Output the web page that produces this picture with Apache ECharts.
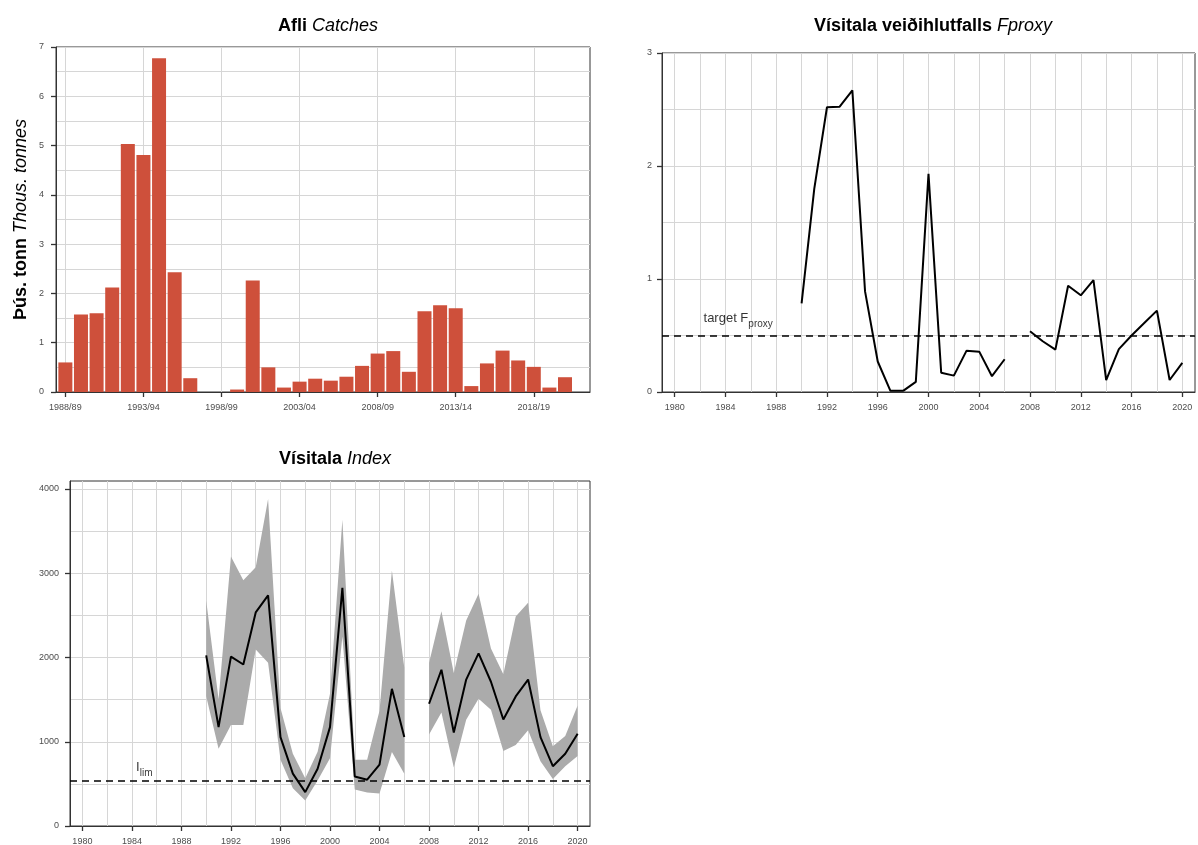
<!DOCTYPE html>
<html>
<head>
<meta charset="utf-8">
<script src="https://cdn.jsdelivr.net/npm/echarts@6/dist/echarts.min.js"></script>
<style>
html,body{margin:0;padding:0;background:#ffffff;}
#c{width:1198px;height:845px;}
</style>
</head>
<body>
<div id="c"></div>
<script>
// ---------------- data ----------------
const seasons = ['1988/89','1989/90','1990/91','1991/92','1992/93','1993/94','1994/95','1995/96','1996/97','1997/98',
  '1998/99','1999/00','2000/01','2001/02','2002/03','2003/04','2004/05','2005/06','2006/07','2007/08',
  '2008/09','2009/10','2010/11','2011/12','2012/13','2013/14','2014/15','2015/16','2016/17','2017/18',
  '2018/19','2019/20','2020/21'];
const catches = [0.60,1.57,1.60,2.12,5.03,4.81,6.77,2.43,0.28,0,
  0,0.05,2.26,0.50,0.09,0.21,0.27,0.23,0.31,0.53,
  0.78,0.83,0.41,1.64,1.76,1.70,0.12,0.58,0.84,0.64,
  0.51,0.09,0.30];
const catchTickSeasons = ['1988/89','1993/94','1998/99','2003/04','2008/09','2013/14','2018/19'];

const years = [1990,1991,1992,1993,1994,1995,1996,1997,1998,1999,2000,2001,2002,2003,2004,2005,2006,2007,
  2008,2009,2010,2011,2012,2013,2014,2015,2016,2017,2018,2019,2020];
const fproxy = [0.785,1.80,2.52,2.525,2.67,0.89,0.27,0.01,0.01,0.09,1.93,0.17,0.145,0.366,0.357,0.14,0.29,null,
  0.537,0.449,0.375,0.94,0.856,0.99,0.106,0.38,0.50,0.61,0.72,0.106,0.258];
const fTarget = 0.5;
const fTargetLabelAt = [1985, 0.652];

const indexVal = [2026,1174,2010,1917,2535,2738,1055,621,402,680,1174,2828,587,550,728,1628,1055,null,
  1451,1855,1110,1738,2049,1712,1264,1538,1738,1055,710,858,1095];
const indexUpper = [2678,1505,3200,2917,3070,3880,1400,858,566,882,1569,3635,787,787,1367,3032,1880,null,
  1935,2548,1816,2439,2757,2106,1801,2486,2650,1374,946,1069,1431];
const indexLower = [1540,917,1200,1200,2095,1937,785,448,304,541,803,2250,434,397,385,877,620,null,
  1087,1346,695,1261,1510,1379,889,962,1136,769,558,710,832];
const iLim = 541;
const iLimLabelAt = [1985, 697];

const yearTicks = [1980,1984,1988,1992,1996,2000,2004,2008,2012,2016,2020];
const yearGrid = [1980,1982,1984,1986,1988,1990,1992,1994,1996,1998,2000,2002,2004,2006,2008,2010,2012,2014,2016,2018,2020];
const indexTicks = [0,1000,2000,3000,4000];

// ---------------- styles ----------------
const FONT = 'Liberation Sans, Arial, Helvetica, sans-serif';
const AX = '#333333';
const GRIDC = '#d6d6d6';
const LBL = {color:'#4d4d4d', fontSize:9, fontFamily:FONT, margin:11};
const seasonYear = s => parseInt(s.slice(0,4), 10);

function titleText(text, cx, top){
  return {
    text: text, left: cx, top: top, textAlign: 'center',
    textStyle: {
      fontFamily: FONT, fontSize: 18, fontWeight: 'normal', color: '#000', lineHeight: 22,
      rich: {
        b: {fontFamily: FONT, fontSize: 18, fontWeight: 'bold', fontStyle: 'normal', color: '#000', lineHeight: 22},
        i: {fontFamily: FONT, fontSize: 18, fontWeight: 'normal', fontStyle: 'italic', color: '#000', lineHeight: 22}
      }
    }
  };
}

function yearAxisLabels(gi){
  return {
    gridIndex: gi, type: 'value', min: 1979, max: 2021,
    axisLine: {show: true, lineStyle: {color: AX, width: 1}},
    axisTick: {show: true, customValues: yearTicks, length: 5, lineStyle: {color: AX, width: 1.3}},
    axisLabel: Object.assign({}, LBL, {customValues: yearTicks, formatter: v => String(Math.round(v))}),
    splitLine: {show: false}
  };
}
function yearAxisGrid(gi){
  return {
    gridIndex: gi, type: 'value', min: 1979, max: 2021, position: 'bottom',
    axisLine: {show: false},
    axisTick: {show: false, customValues: yearGrid},
    axisLabel: {show: false, customValues: yearGrid},
    splitLine: {show: true, lineStyle: {color: GRIDC, width: 1}}
  };
}

// band segments (skip missing years)
const segs = [];
let st = -1;
for (let i = 0; i < years.length; i++) {
  const ok = indexUpper[i] !== null && indexLower[i] !== null;
  if (ok && st < 0) st = i;
  if ((!ok || i === years.length - 1) && st >= 0) {
    segs.push([st, ok ? i : i - 1]);
    st = -1;
  }
}

const option = {
  animation: false,
  backgroundColor: '#ffffff',
  title: [
    titleText('{b|Afli} {i|Catches}', 323, 10),
    titleText('{b|Vísitala veiðihlutfalls} {i|Fproxy}', 928, 10),
    titleText('{b|Vísitala} {i|Index}', 330, 443)
  ],
  grid: [
    {left: 56, top: 47, width: 534, height: 345, show: true, borderColor: AX, borderWidth: 1, backgroundColor: 'transparent', containLabel: false, outerBoundsMode: 'none'},
    {left: 662, top: 53, width: 533, height: 339, show: true, borderColor: AX, borderWidth: 1, backgroundColor: 'transparent', containLabel: false, outerBoundsMode: 'none'},
    {left: 70, top: 481, width: 520, height: 345, show: true, borderColor: AX, borderWidth: 1, backgroundColor: 'transparent', containLabel: false, outerBoundsMode: 'none'}
  ],
  xAxis: [
    {
      gridIndex: 0, type: 'value', min: 1987.4, max: 2021.6,
      axisLine: {show: true, lineStyle: {color: AX, width: 1}},
      axisTick: {show: true, customValues: catchTickSeasons.map(seasonYear), length: 5, lineStyle: {color: AX, width: 1.3}},
      axisLabel: Object.assign({}, LBL, {
        customValues: catchTickSeasons.map(seasonYear),
        formatter: v => catchTickSeasons.find(s => seasonYear(s) === Math.round(v)) || ''
      }),
      splitLine: {show: true, lineStyle: {color: GRIDC, width: 1}}
    },
    yearAxisLabels(1),
    yearAxisGrid(1),
    yearAxisLabels(2),
    yearAxisGrid(2)
  ],
  yAxis: [
    {
      gridIndex: 0, type: 'value', min: 0, max: 7, interval: 1,
      name: '{b|Þús. tonn} {i|Thous. tonnes}', nameLocation: 'middle', nameRotate: 90, nameGap: 26,
      nameTextStyle: {
        fontFamily: FONT, fontSize: 18, fontWeight: 'normal', color: '#000',
        rich: {
          b: {fontFamily: FONT, fontSize: 18, fontWeight: 'bold', fontStyle: 'normal', color: '#000'},
          i: {fontFamily: FONT, fontSize: 18, fontWeight: 'normal', fontStyle: 'italic', color: '#000'}
        }
      },
      axisLine: {show: true, lineStyle: {color: AX, width: 1}},
      axisTick: {show: true, length: 5, lineStyle: {color: AX, width: 1.3}},
      axisLabel: Object.assign({}, LBL, {margin: 12}),
      splitLine: {show: true, lineStyle: {color: GRIDC, width: 1}},
      minorTick: {show: false, splitNumber: 2},
      minorSplitLine: {show: true, lineStyle: {color: GRIDC, width: 1}}
    },
    {
      gridIndex: 1, type: 'value', min: 0, max: 3, interval: 1,
      axisLine: {show: true, lineStyle: {color: AX, width: 1}},
      axisTick: {show: true, length: 5, lineStyle: {color: AX, width: 1.3}},
      axisLabel: Object.assign({}, LBL, {margin: 10}),
      splitLine: {show: true, lineStyle: {color: GRIDC, width: 1}},
      minorTick: {show: false, splitNumber: 2},
      minorSplitLine: {show: true, lineStyle: {color: GRIDC, width: 1}}
    },
    {
      gridIndex: 2, type: 'value', min: 0, max: 4095, interval: 1000,
      axisLine: {show: true, lineStyle: {color: AX, width: 1}},
      axisTick: {show: true, customValues: indexTicks, length: 5, lineStyle: {color: AX, width: 1.3}},
      axisLabel: Object.assign({}, LBL, {margin: 11, customValues: indexTicks, formatter: v => String(Math.round(v))}),
      splitLine: {show: true, lineStyle: {color: GRIDC, width: 1}},
      minorTick: {show: false, splitNumber: 2},
      minorSplitLine: {show: true, lineStyle: {color: GRIDC, width: 1}}
    }
  ],
  series: [
    {
      type: 'bar', xAxisIndex: 0, yAxisIndex: 0,
      data: seasons.map((s, i) => [seasonYear(s), catches[i]]),
      barWidth: 14,
      itemStyle: {color: '#CE503B'},
      z: 3
    },
    {
      type: 'line', xAxisIndex: 1, yAxisIndex: 1,
      data: years.map((y, i) => [y, fproxy[i] === null ? '-' : fproxy[i]]),
      symbol: 'none', connectNulls: false,
      lineStyle: {color: '#000', width: 2},
      markLine: {
        silent: true, symbol: 'none', label: {show: false},
        lineStyle: {color: '#000', width: 1.5, type: [7, 5]},
        data: [{yAxis: fTarget}]
      },
      z: 4
    },
    {
      type: 'scatter', xAxisIndex: 1, yAxisIndex: 1,
      data: [fTargetLabelAt], symbolSize: 0, silent: true,
      label: {
        show: true, position: 'inside',
        formatter: '{a|target F}{s|proxy}',
        rich: {
          a: {fontFamily: FONT, fontSize: 13, color: '#000', lineHeight: 24},
          s: {fontFamily: FONT, fontSize: 10, color: '#000', lineHeight: 12, padding: [12, 0, 0, 0]}
        }
      },
      z: 5
    },
    {
      type: 'custom', xAxisIndex: 3, yAxisIndex: 2,
      data: segs.map((s, i) => [years[s[0]], indexLower[s[0]], i]),
      renderItem: function (params, api) {
        const sg = segs[params.dataIndex];
        const pts = [];
        for (let i = sg[0]; i <= sg[1]; i++) pts.push(api.coord([years[i], indexUpper[i]]));
        for (let i = sg[1]; i >= sg[0]; i--) pts.push(api.coord([years[i], indexLower[i]]));
        return {type: 'polygon', shape: {points: pts}, style: {fill: '#ababab'}};
      },
      silent: true,
      z: 2
    },
    {
      type: 'line', xAxisIndex: 3, yAxisIndex: 2,
      data: years.map((y, i) => [y, indexVal[i] === null ? '-' : indexVal[i]]),
      symbol: 'none', connectNulls: false,
      lineStyle: {color: '#000', width: 2},
      markLine: {
        silent: true, symbol: 'none', label: {show: false},
        lineStyle: {color: '#000', width: 1.5, type: [7, 5]},
        data: [{yAxis: iLim}]
      },
      z: 4
    },
    {
      type: 'scatter', xAxisIndex: 3, yAxisIndex: 2,
      data: [iLimLabelAt], symbolSize: 0, silent: true,
      label: {
        show: true, position: 'inside',
        formatter: '{a|I}{s|lim}',
        rich: {
          a: {fontFamily: FONT, fontSize: 13, color: '#000', lineHeight: 24},
          s: {fontFamily: FONT, fontSize: 10, color: '#000', lineHeight: 12, padding: [12, 0, 0, 0]}
        }
      },
      z: 5
    }
  ]
};

const chart = echarts.init(document.getElementById('c'), null, {renderer: 'canvas', width: 1198, height: 845});
chart.setOption(option);
</script>
</body>
</html>
